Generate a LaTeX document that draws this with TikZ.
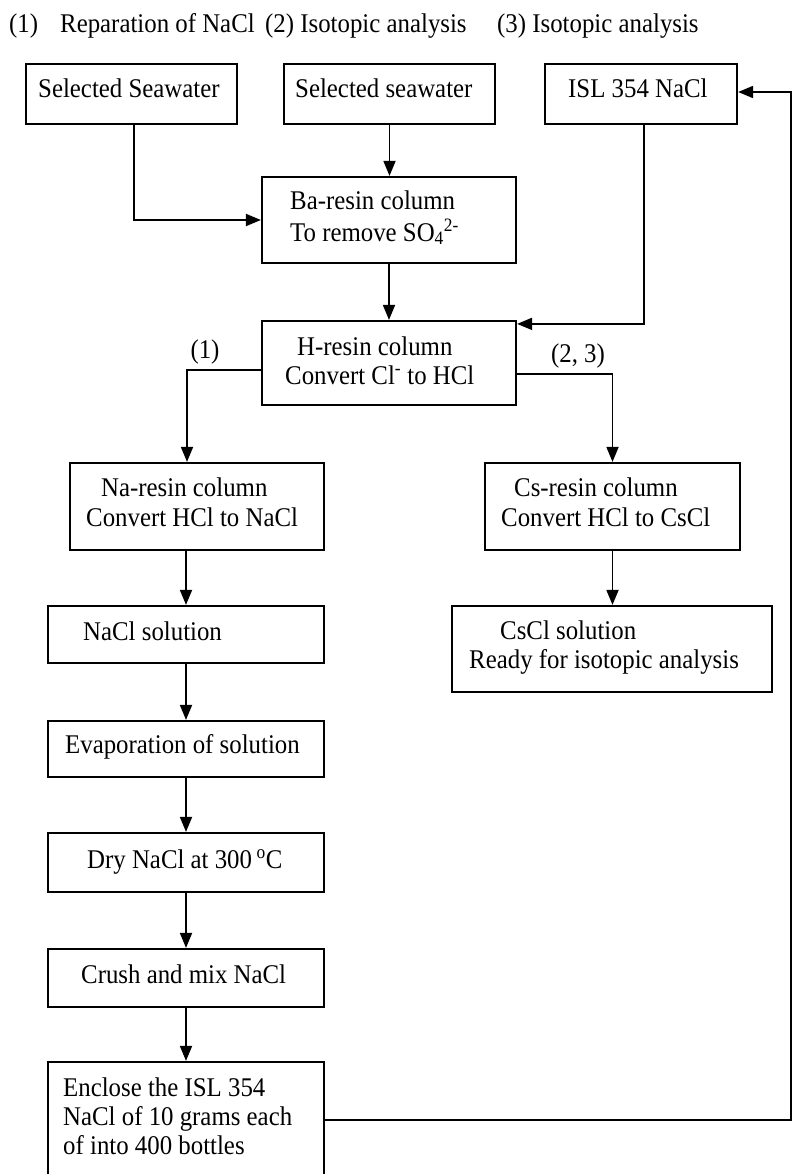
\documentclass[tikz,border=0pt]{standalone}
\usepackage{fontspec}
\setmainfont{Liberation Serif}[FakeStretch=0.92]
\usetikzlibrary{arrows.meta}
\begin{document}
\begin{tikzpicture}[x=1pt,y=-1pt,
  box/.style={draw,line width=2.2pt,inner sep=0pt},
  txt/.style={inner sep=0pt,anchor=base west,font=\fontsize{27}{32}\selectfont},
  ctxt/.style={inner sep=0pt,anchor=base,font=\fontsize{27}{32}\selectfont},
  conn/.style={line width=1.8pt},
  arr/.style={conn,-{Triangle[length=15pt,width=12pt]}}]
\clip (0,0) rectangle (792,1174);
% title
\node[txt] (t1) at (9,33) {(1)};
\node[txt] (t2) at (60,33) {Reparation of NaCl};
\node[txt] (t3) at (265,33) {(2) Isotopic analysis};
\node[txt] (t4) at (497,33) {(3) Isotopic analysis};
% boxes
\node[box,minimum width=211pt,minimum height=60pt] (A) at (131.5,94) {};
\node[box,minimum width=211pt,minimum height=60pt] (B) at (389.5,94) {};
\node[box,minimum width=192pt,minimum height=60pt] (C) at (641,94) {};
\node[box,minimum width=254pt,minimum height=86pt] (Ba) at (389,220) {};
\node[box,minimum width=254pt,minimum height=84pt] (H) at (389,363) {};
\node[box,minimum width=254pt,minimum height=87pt] (Na) at (197,506.5) {};
\node[box,minimum width=255pt,minimum height=87pt] (Cs) at (612.5,506.5) {};
\node[box,minimum width=276pt,minimum height=57pt] (NaCl) at (186,634.5) {};
\node[box,minimum width=320pt,minimum height=86pt] (CsCl) at (612,649) {};
\node[box,minimum width=276pt,minimum height=56pt] (Ev) at (186,749) {};
\node[box,minimum width=276pt,minimum height=59pt] (Dry) at (186,862.5) {};
\node[box,minimum width=276pt,minimum height=58pt] (Cr) at (186,978) {};
\node[box,minimum width=276pt,minimum height=138pt] (En) at (186,1131) {};
% texts
\node[txt] (xA) at (38,98) {Selected Seawater};
\node[txt] (xB) at (295,98) {Selected seawater};
\node[txt] (xC) at (568,98) {ISL 354 NaCl};
\node[txt] (xBa1) at (290,210) {Ba-resin column};
\node[txt] (xBa2) at (290,241) {To remove SO\textsubscript{4}\textsuperscript{2-}};
\node[txt] (xH1) at (297,355) {H-resin column};
\node[txt] (xH2) at (285,384) {Convert Cl\textsuperscript{-} to HCl};
\node[ctxt] (l1) at (205,358) {(1)};
\node[ctxt] (l23) at (578,362) {(2, 3)};
\node[txt] (xNa1) at (101,496) {Na-resin column};
\node[txt] (xNa2) at (86,526) {Convert HCl to NaCl};
\node[txt] (xCs1) at (514,496) {Cs-resin column};
\node[txt] (xCs2) at (501,526) {Convert HCl to CsCl};
\node[txt] (xNaCl) at (83,640) {NaCl solution};
\node[txt] (xCsCl1) at (500,639) {CsCl solution};
\node[txt] (xCsCl2) at (469,668) {Ready for isotopic analysis};
\node[txt] (xEv) at (65,753) {Evaporation of solution};
\node[txt] (xDry) at (87,868) {Dry NaCl at 300\,\textsuperscript{o}C};
\node[txt] (xCr) at (81,983) {Crush and mix NaCl};
\node[txt] (xEn1) at (63,1096) {Enclose the ISL 354};
\node[txt] (xEn2) at (63,1125) {NaCl of 10 grams each};
\node[txt] (xEn3) at (63,1154) {of into 400 bottles};
% connectors
\draw[arr] (B.south) -- (B.south |- Ba.north);
\draw[arr] ([xshift=2.5pt]A.south) |- (Ba.west);
\draw[arr] (Ba.south) -- (H.north);
\draw[arr] ([xshift=3pt]C.south) |- ([yshift=-4pt]H.north east);
\draw[arr] ([yshift=-7pt]H.west) -| ([xshift=-10pt]Na.north);
\draw[arr] ([yshift=-11pt]H.east) -| (Cs.north);
\draw[arr] (NaCl.north |- Na.south) -- (NaCl.north);
\draw[arr] (Cs.south) -- (Cs.south |- CsCl.north);
\draw[arr] (NaCl.south) -- (Ev.north);
\draw[arr] (Ev.south) -- (Dry.north);
\draw[arr] (Dry.south) -- (Cr.north);
\draw[arr] (Cr.south) -- (En.north);
\coordinate (r1) at (791,1120);
\coordinate (r2) at (791,92);
\draw[arr] ([yshift=11pt]En.east) -- (r1) -- (r2) -- ([yshift=2pt]C.east);
\end{tikzpicture}
\end{document}
